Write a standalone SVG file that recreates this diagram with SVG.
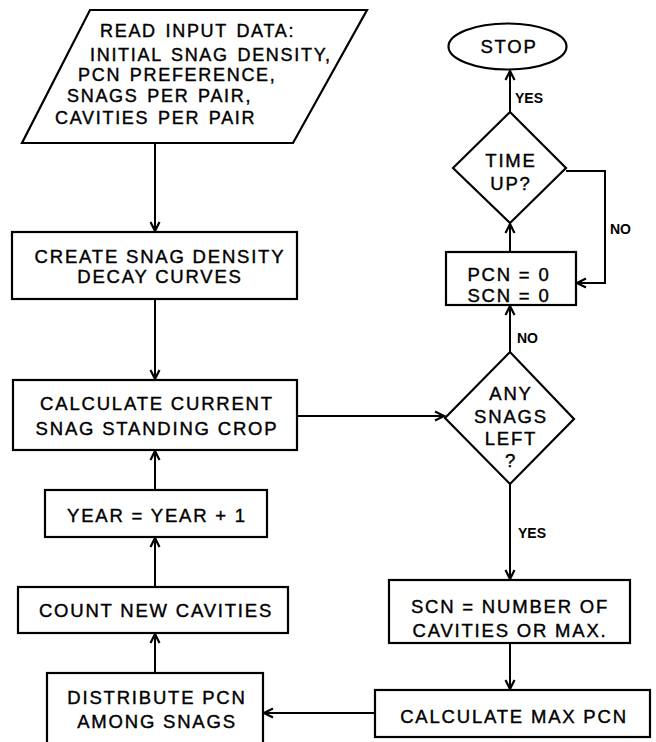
<svg xmlns="http://www.w3.org/2000/svg" width="656" height="742" viewBox="0 0 656 742">
<defs>
<marker id="ah" markerUnits="userSpaceOnUse" markerWidth="12" markerHeight="12" refX="10" refY="5" orient="auto" overflow="visible">
<path d="M1,0.5 L10,5 L1,9.5" fill="none" stroke="#000" stroke-width="2.2" stroke-linejoin="miter"/>
</marker>
<style>
.s{fill:#fff;stroke:#000;stroke-width:2.2}
.c{fill:none;stroke:#000;stroke-width:2}
.t{font-family:"Liberation Sans",Arial,sans-serif;font-size:18.5px;fill:#000;stroke:#000;stroke-width:0.4;letter-spacing:1.8px;text-anchor:middle}
.p{font-family:"Liberation Sans",Arial,sans-serif;font-size:18px;fill:#000;stroke:#000;stroke-width:0.4;letter-spacing:1.7px;word-spacing:2px}
.l{font-family:"Liberation Sans",Arial,sans-serif;font-size:14px;font-weight:bold;fill:#000}
</style>
</defs>
<rect width="656" height="742" fill="#fff"/>
<g id="connectors">
<line class="c" x1="155" y1="143" x2="155" y2="231" marker-end="url(#ah)"/>
<line class="c" x1="155" y1="299" x2="155" y2="379" marker-end="url(#ah)"/>
<line class="c" x1="297" y1="416" x2="444" y2="416" marker-end="url(#ah)"/>
<line class="c" x1="510" y1="484" x2="510" y2="579" marker-end="url(#ah)"/>
<line class="c" x1="510" y1="643" x2="510" y2="689" marker-end="url(#ah)"/>
<line class="c" x1="375" y1="713" x2="264" y2="713" marker-end="url(#ah)"/>
<line class="c" x1="155" y1="673" x2="155" y2="634" marker-end="url(#ah)"/>
<line class="c" x1="155" y1="587" x2="155" y2="538" marker-end="url(#ah)"/>
<line class="c" x1="155" y1="490" x2="155" y2="451" marker-end="url(#ah)"/>
<line class="c" x1="510" y1="352" x2="510" y2="306" marker-end="url(#ah)"/>
<line class="c" x1="510" y1="252" x2="510" y2="224" marker-end="url(#ah)"/>
<polyline class="c" points="566,171 605,171 605,283 577,283" marker-end="url(#ah)"/>
<line class="c" x1="510" y1="112" x2="510" y2="71" marker-end="url(#ah)"/>
<text class="l" x="518" y="538">YES</text>
<text class="l" x="517" y="343">NO</text>
<text class="l" x="610" y="234">NO</text>
<text class="l" x="515" y="103">YES</text>
</g>
<g id="read-input">
<polygon class="s" points="90,10 367,10 293,143 22,143"/>
<text class="p" x="100" y="37">READ INPUT DATA:</text>
<text class="p" x="90" y="61">INITIAL SNAG DENSITY,</text>
<text class="p" x="78" y="81">PCN PREFERENCE,</text>
<text class="p" x="67" y="102">SNAGS PER PAIR,</text>
<text class="p" x="55" y="124">CAVITIES PER PAIR</text>
</g>
<g id="create-curves">
<rect class="s" x="12" y="232" width="285" height="67"/>
<text class="t" x="160" y="263">CREATE SNAG DENSITY</text>
<text class="t" x="160" y="283">DECAY CURVES</text>
</g>
<g id="calc-current">
<rect class="s" x="13" y="380" width="284" height="70"/>
<text class="t" x="157" y="410">CALCULATE CURRENT</text>
<text class="t" x="157" y="435">SNAG STANDING CROP</text>
</g>
<g id="year">
<rect class="s" x="45" y="490" width="222" height="47"/>
<text class="t" x="157" y="522">YEAR = YEAR + 1</text>
</g>
<g id="count">
<rect class="s" x="18" y="587" width="270" height="46"/>
<text class="t" x="156" y="617">COUNT NEW CAVITIES</text>
</g>
<g id="distribute">
<rect class="s" x="47" y="673" width="216" height="80"/>
<text class="t" x="157" y="704">DISTRIBUTE PCN</text>
<text class="t" x="157" y="728">AMONG SNAGS</text>
</g>
<g id="any-snags">
<polygon class="s" points="445,418 510,352 574,419 510,484"/>
<text class="t" x="511" y="400">ANY</text>
<text class="t" x="511" y="423">SNAGS</text>
<text class="t" x="511" y="445">LEFT</text>
<text class="t" x="511" y="467">?</text>
</g>
<g id="scn-number">
<rect class="s" x="389" y="580" width="241" height="63"/>
<text class="t" x="510" y="613">SCN = NUMBER OF</text>
<text class="t" x="510" y="637">CAVITIES OR MAX.</text>
</g>
<g id="calc-max">
<rect class="s" x="375" y="690" width="275" height="47"/>
<text class="t" x="514" y="723">CALCULATE MAX PCN</text>
</g>
<g id="pcn-zero">
<rect class="s" x="446" y="252" width="130" height="53"/>
<text class="t" x="509" y="281">PCN = 0</text>
<text class="t" x="509" y="302">SCN = 0</text>
</g>
<g id="time-up">
<polygon class="s" points="453,168 510,112 566,168 510,223"/>
<text class="t" x="511" y="167">TIME</text>
<text class="t" x="511" y="190">UP?</text>
</g>
<g id="stop">
<ellipse class="s" cx="507.5" cy="46.5" rx="59" ry="23"/>
<text class="t" x="509" y="53">STOP</text>
</g>
</svg>
